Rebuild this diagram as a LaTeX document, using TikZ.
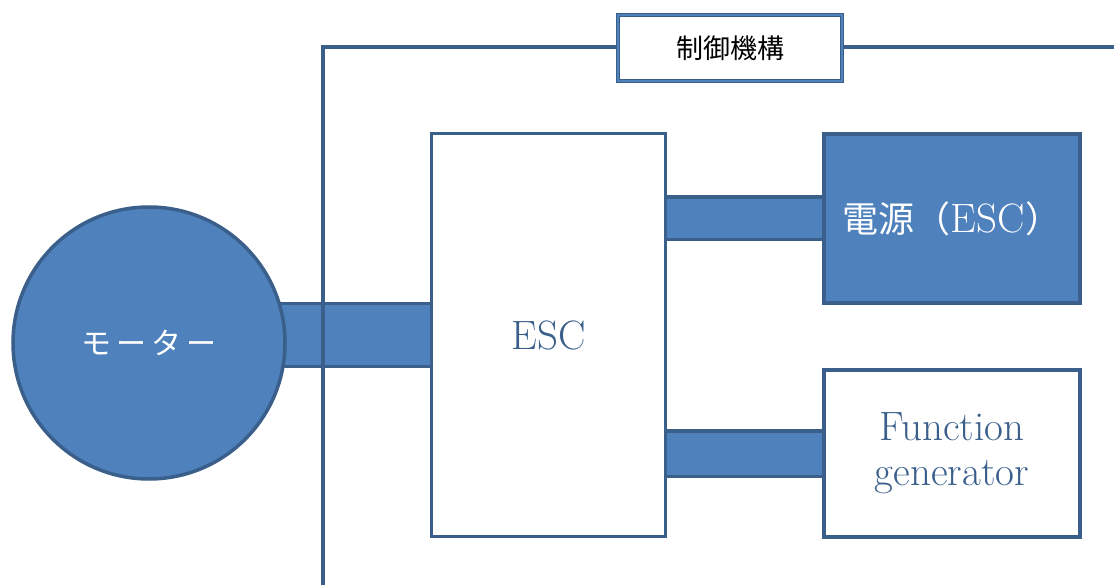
\documentclass[tikz,border=0pt]{standalone}
\usepackage{fontspec}
\newfontfamily\jp{Noto Sans CJK JP}
\usetikzlibrary{backgrounds}
\definecolor{bordo}{HTML}{3A5F8B}
\definecolor{riempi}{HTML}{4F81BD}
\tikzset{
    scatola/.style={draw=bordo, line width=3.5pt, fill=white, text=bordo, align=center,
        font=\fontsize{41}{45}\selectfont},
    piena/.style={scatola, fill=riempi, text=white},
    barra/.style={draw=bordo, line width=3.5pt, double=riempi, double distance=#1},
    telaio/.style={draw=bordo, line width=3.5pt},
    etichetta/.style={draw=bordo, line width=1pt, double=riempi, double distance=2pt,
        fill=white, minimum width=224pt, minimum height=66pt,
        font=\jp\fontsize{27}{27}\selectfont}
}
\begin{document}
\begin{tikzpicture}[x=1pt, y=-1pt]
    \useasboundingbox (0,0) rectangle (1114,585);

    % Blocchi
    \node[piena, circle, minimum size=272pt, font=\jp\fontsize{30}{30}\selectfont] (motore) at (149,343) {モ\,ー\,タ\,ー};
    \node[scatola, minimum width=234pt, minimum height=403pt] (esc) at (548.5,335) {ESC};
    \node[piena, minimum width=256pt, minimum height=169pt] (alim) at (952,218.5)
        {{\jp\fontsize{36}{36}\selectfont 電源（}ESC{\jp\fontsize{36}{36}\selectfont ）}};
    \node[scatola, minimum width=256pt, minimum height=167pt] (fg) at (952,453.5) {Function\\generator};

    % Barre
    \begin{scope}[on background layer]
        \draw[barra=59pt] (esc.west) -- (esc.west -| motore.center);
        \draw[barra=39pt] (alim.west) -- (alim.west -| esc.east);
        \draw[barra=42pt] (fg.west) -- (fg.west -| esc.east);
    \end{scope}

    % Telaio
    \coordinate (basso) at (323,585);
    \coordinate (destra) at (1114,47);
    \draw[telaio] (basso) |- (destra);
    \node[etichetta] (controllo) at (730,48) {制御機構};
\end{tikzpicture}
\end{document}
